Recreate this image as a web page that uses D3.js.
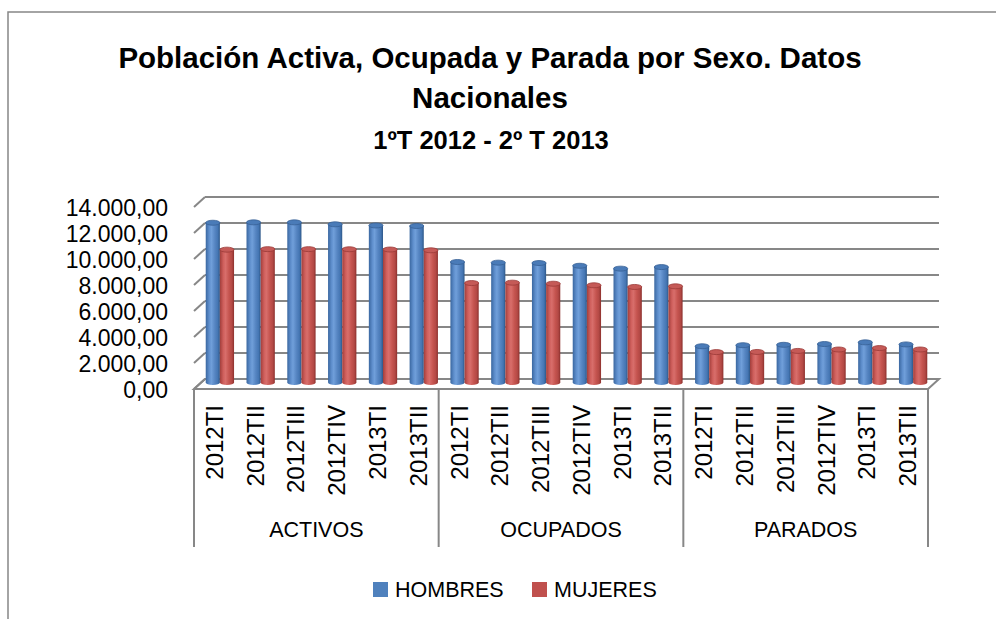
<!DOCTYPE html>
<html>
<head>
<meta charset="utf-8">
<script src="https://cdn.jsdelivr.net/npm/d3@7"></script>
<style>
  body { margin: 0; background: #fff; }
  text { font-family: "Liberation Sans", Arial, sans-serif; fill: #000; }
</style>
</head>
<body>
<script>
var w = 996;
var h = 619;

// data (thousands of people)
var groups = ["ACTIVOS", "OCUPADOS", "PARADOS"];
var quarters = ["2012TI", "2012TII", "2012TIII", "2012TIV", "2013TI", "2013TII"];
var hombres = [12520, 12550, 12550, 12400, 12310, 12270,
               9500, 9450, 9420, 9210, 8990, 9110,
               3020, 3100, 3130, 3190, 3320, 3160];
var mujeres = [10450, 10490, 10490, 10480, 10460, 10400,
               7880, 7910, 7830, 7710, 7580, 7630,
               2570, 2580, 2660, 2770, 2880, 2770];
var yTicks = [0, 2000, 4000, 6000, 8000, 10000, 12000, 14000];
var seriesNames = ["HOMBRES", "MUJERES"];

var cats = [];
groups.forEach(function(g) {
    quarters.forEach(function(q) { cats.push(g + "|" + q); });
});

var rows = cats.map(function(c, i) {
    return {cat: c, q: quarters[i % quarters.length], values: [hombres[i], mujeres[i]]};
});

var es = d3.formatLocale({decimal: ",", thousands: ".", grouping: [3], currency: ["", " €"]});
var fmt = es.format(",.2f");

var svg = d3.select("body")
            .append("svg")
                .attr("width", w)
                .attr("height", h);

// plot geometry (front plane, depth offset)
var pLeft = 194, pRight = 928, pBottom = 389, pTop = 207;
var dx = 11, dy = -10;

var yFront = d3.scaleLinear().domain([0, 14000]).range([pBottom, pTop]);
var yBack = d3.scaleLinear().domain([0, 14000]).range([pBottom + dy, pTop + dy]);
var yMid = d3.scaleLinear().domain([0, 14000]).range([pBottom + dy / 2 + 1, pTop + dy / 2 + 1]);

var x0 = d3.scaleBand().domain(cats).range([pLeft, pRight]);
var x1 = d3.scaleBand().domain([0, 1]).range([0, x0.bandwidth()]).paddingOuter(0.44);
var xg = d3.scaleBand().domain(groups).range([pLeft, pRight]);

var gridColor = "#878787";

// chart frame
svg.append("rect")
    .attr("x", 8).attr("y", 12)
    .attr("width", 1100).attr("height", 800)
    .attr("fill", "none")
    .attr("stroke", gridColor)
    .attr("stroke-width", 1.5);

// title
var title = svg.append("text")
    .attr("text-anchor", "middle")
    .attr("font-weight", "bold");
title.append("tspan").attr("x", 490).attr("y", 68).attr("font-size", 29.5)
    .text("Población Activa, Ocupada y Parada por Sexo. Datos");
title.append("tspan").attr("x", 490).attr("y", 108).attr("font-size", 29.5)
    .text("Nacionales");
title.append("tspan").attr("x", 491).attr("y", 149).attr("font-size", 25.5)
    .text("1ºT 2012 - 2º T 2013");

// floor
svg.append("polygon")
    .attr("points", [[pLeft, pBottom], [pRight, pBottom], [pRight + dx, pBottom + dy], [pLeft + dx, pBottom + dy]]
        .map(function(p) { return p.join(","); }).join(" "))
    .attr("fill", "#fff")
    .attr("stroke", gridColor)
    .attr("stroke-width", 2);

// back wall gridlines + side wall ticks
var grid = svg.append("g").attr("stroke", gridColor).attr("stroke-width", 2).attr("fill", "none");
grid.selectAll("line.back")
    .data(yTicks)
    .enter()
    .append("line")
        .attr("class", "back")
        .attr("x1", pLeft + dx).attr("x2", pRight + dx)
        .attr("y1", function(d) { return yBack(d); })
        .attr("y2", function(d) { return yBack(d); });
grid.selectAll("line.side")
    .data(yTicks)
    .enter()
    .append("line")
        .attr("class", "side")
        .attr("x1", pLeft).attr("x2", pLeft + dx)
        .attr("y1", function(d) { return yFront(d); })
        .attr("y2", function(d) { return yBack(d); });

// value labels
svg.selectAll("text.ylab")
    .data(yTicks)
    .enter()
    .append("text")
        .attr("class", "ylab")
        .attr("x", 168)
        .attr("y", function(d) { return yFront(d) + 1; })
        .attr("text-anchor", "end")
        .attr("dominant-baseline", "central")
        .attr("font-size", 23)
        .text(function(d) { return fmt(d); });

// gradients for cylinders
var defs = svg.append("defs");
var palettes = [
    {id: "gBlue", stops: ["#3a67a0", "#5f8fcd", "#709fda", "#5685c2", "#4576b3", "#2d5788"], topFill: "#4a7bb8", topStroke: "#365f94"},
    {id: "gRed", stops: ["#a23e3b", "#d0605d", "#d86e6b", "#c5544f", "#b34945", "#8c302d"], topFill: "#c55a57", topStroke: "#9a3a37"}
];
palettes.forEach(function(p) {
    var lg = defs.append("linearGradient").attr("id", p.id)
        .attr("x1", "0%").attr("x2", "100%").attr("y1", "0%").attr("y2", "0%");
    var offs = [0, 0.25, 0.4, 0.65, 0.85, 1];
    p.stops.forEach(function(c, i) {
        lg.append("stop").attr("offset", offs[i]).attr("stop-color", c);
    });
});

// cylinders
var ry = 2.5;
var bw = x1.bandwidth();
var cols = svg.append("g");
rows.forEach(function(r) {
    r.values.forEach(function(v, s) {
        var xl = x0(r.cat) + x1(s) + dx / 2;
        var xr = xl + bw;
        var cx = xl + bw / 2;
        var yt = yMid(v) + 0.5;
        var yb = yMid(0) - ry;
        var p = palettes[s];
        cols.append("path")
            .attr("d", "M" + xl + "," + yt +
                       "L" + xl + "," + yb +
                       "A" + (bw / 2) + "," + ry + " 0 0 0 " + xr + "," + yb +
                       "L" + xr + "," + yt + "Z")
            .attr("fill", "url(#" + p.id + ")");
        cols.append("ellipse")
            .attr("cx", cx).attr("cy", yt)
            .attr("rx", bw / 2).attr("ry", ry)
            .attr("fill", p.topFill)
            .attr("stroke", p.topStroke)
            .attr("stroke-width", 0.8);
    });
});

// category axis: separators between groups
var seps = groups.map(function(g) { return xg(g); }).concat([pRight]);
svg.selectAll("line.sep")
    .data(seps)
    .enter()
    .append("line")
        .attr("class", "sep")
        .attr("x1", function(d) { return d; })
        .attr("x2", function(d) { return d; })
        .attr("y1", pBottom)
        .attr("y2", 547)
        .attr("stroke", gridColor)
        .attr("stroke-width", 2);

// quarter labels (rotated)
svg.selectAll("text.qlab")
    .data(rows)
    .enter()
    .append("text")
        .attr("class", "qlab")
        .attr("transform", function(d) {
            return "translate(" + (x0(d.cat) + x0.bandwidth() / 2) + ",405) rotate(-90)";
        })
        .attr("text-anchor", "end")
        .attr("dominant-baseline", "central")
        .attr("font-size", 24)
        .text(function(d) { return d.q; });

// group labels
svg.selectAll("text.glab")
    .data(groups)
    .enter()
    .append("text")
        .attr("class", "glab")
        .attr("x", function(d) { return xg(d) + xg.bandwidth() / 2; })
        .attr("y", 530)
        .attr("text-anchor", "middle")
        .attr("dominant-baseline", "central")
        .attr("font-size", 21.5)
        .text(function(d) { return d; });

// legend
var legX = [373, 532];
var legColors = ["#4f81bd", "#c0504d"];
var leg = svg.selectAll("g.leg")
    .data(seriesNames)
    .enter()
    .append("g")
        .attr("class", "leg")
        .attr("transform", function(d, i) { return "translate(" + legX[i] + ",582)"; });
leg.append("rect")
    .attr("width", 15).attr("height", 15)
    .attr("fill", function(d, i) { return legColors[i]; });
leg.append("text")
    .attr("x", 22).attr("y", 8)
    .attr("dominant-baseline", "central")
    .attr("font-size", 21.5)
    .text(function(d) { return d; });
</script>
</body>
</html>
